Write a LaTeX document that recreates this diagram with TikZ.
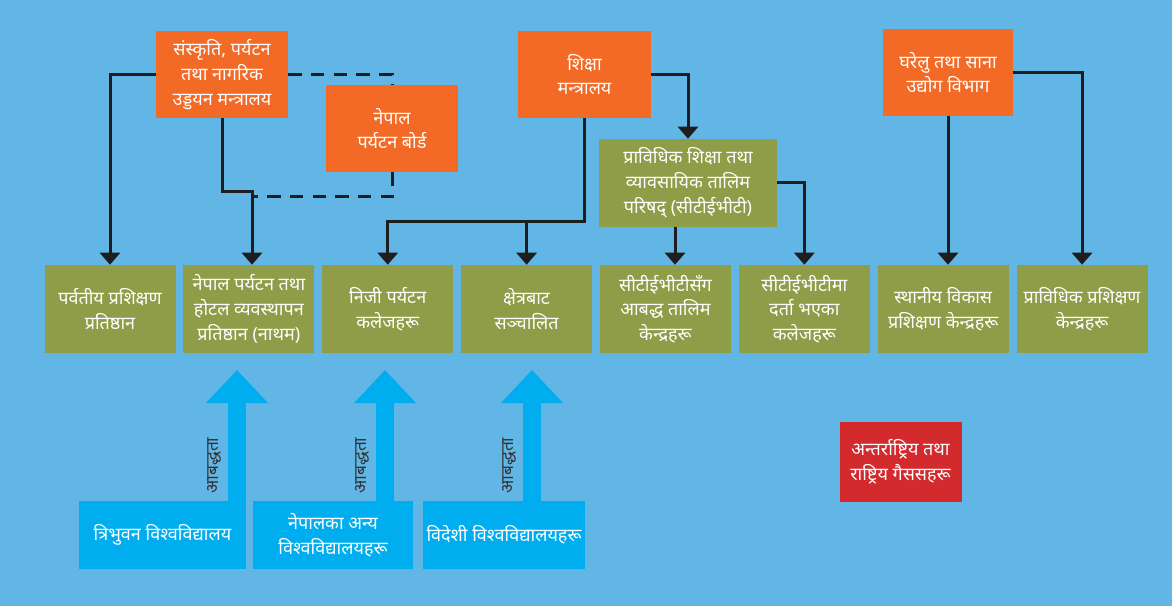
\documentclass[tikz,border=0pt]{standalone}
\usepackage{fontspec}
\newfontfamily\devfont[Script=Devanagari]{Noto Sans}
\usetikzlibrary{positioning, arrows.meta}
\definecolor{skyback}{HTML}{62B6E6}
\definecolor{orgfill}{HTML}{F26A25}
\definecolor{grnfill}{HTML}{8F9D48}
\definecolor{univfill}{HTML}{00AEEF}
\definecolor{redfill}{HTML}{D32A2E}
\definecolor{linedark}{HTML}{1E1E1E}
\definecolor{lbltext}{HTML}{333333}

\begin{document}
\begin{tikzpicture}[x=0.75pt,y=-0.75pt,node distance=5.5pt,
	box/.style={inner sep=0pt, align=center, text=white, font=\devfont\fontsize{13.5}{18.5}\selectfont},
	org/.style={box, fill=orgfill, minimum width=99pt, minimum height=65.25pt},
	grn/.style={box, fill=grnfill, minimum width=98.25pt, minimum height=66pt},
	univ/.style={box, fill=univfill, minimum height=51pt},
	link/.style={draw=linedark, line width=2.25pt, -{Triangle[width=15pt,length=9pt]}},
	dashln/.style={draw=linedark, line width=2.25pt, dash pattern=on 10pt off 7pt},
	affil/.style={draw=univfill, line width=13.5pt, -{Triangle[width=45pt,length=24.75pt]}},
	lbl/.style={sloped, above=5pt, inner sep=0pt, text=lbltext, font=\devfont\fontsize{13}{14}\selectfont}]
		\fill[skyback] (0,0) rectangle (1172,606);
		\useasboundingbox (0,0) rectangle (1172,606);

		% ministries and boards
		\node[org						] (mocta)	at (222,74.5)	{संस्कृति, पर्यटन\\तथा नागरिक\\उड्डयन मन्त्रालय};
		\node[org						] (ntb)		at (392,128.5)	{नेपाल\\पर्यटन बोर्ड};
		\node[org, minimum width=99.75pt] (moe)		at (584.5,74.5)	{शिक्षा\\मन्त्रालय};
		\node[org, minimum width=97.5pt	] (dcsi)	at (948,72.5)	{घरेलु तथा साना\\उद्योग विभाग};
		\node[grn, minimum width=133.5pt] (ctevt)	at (688,183)	{प्राविधिक शिक्षा तथा\\व्यावसायिक तालिम\\परिषद् (सीटीईभीटी)};

		% training institutions
		\node[grn						] (mti)		at (110,309)	{पर्वतीय प्रशिक्षण\\प्रतिष्ठान};
		\node[grn, right=of mti			] (nathm)	{नेपाल पर्यटन तथा\\होटल व्यवस्थापन\\प्रतिष्ठान (नाथम)};
		\node[grn, right=of nathm		] (pvt)		{निजी पर्यटन\\कलेजहरू};
		\node[grn, right=of pvt			] (ctv)		{क्षेत्रबाट\\सञ्चालित};
		\node[grn, right=of ctv			] (cta)		{सीटीईभीटीसँग\\आबद्ध तालिम\\केन्द्रहरू};
		\node[grn, right=of cta			] (reg)		{सीटीईभीटीमा\\दर्ता भएका\\कलेजहरू};
		\node[grn, right=of reg			] (ldc)		{स्थानीय विकास\\प्रशिक्षण केन्द्रहरू};
		\node[grn, right=of ldc			] (tti)		{प्राविधिक प्रशिक्षण\\केन्द्रहरू};

		% universities
		\node[univ, minimum width=125.25pt	] (tu)		at (162.5,535)	{त्रिभुवन विश्वविद्यालय};
		\node[univ, minimum width=120pt		] (nepu)	at (333,535)	{नेपालका अन्य\\विश्वविद्यालयहरू};
		\node[univ, minimum width=121.5pt	] (foru)	at (504,535)	{विदेशी विश्वविद्यालयहरू};

		\node[box, fill=redfill, minimum width=91.5pt, minimum height=60pt] (ngo) at (900.5,462) {अन्तर्राष्ट्रिय तथा\\राष्ट्रिय गैससहरू};

		\coordinate (jog)		at (252,192);
		\coordinate (dashjoin)	at (252,197);
		\coordinate (moejoin)	at (584.5,222);
		\coordinate (ctevtout)	at ([xshift=-9.75pt]ctevt.south);
		\coordinate (tutip)		at (237,370);
		\coordinate (neputip)	at (385,370);
		\coordinate (forutip)	at (532,370);

		\draw[link] (mocta.west) -| (mti.north);
		\draw[link] (mocta.south) |- (jog) -- (jog |- nathm.north);
		\draw[dashln] (mocta.east) -| (ntb.north);
		\draw[dashln] (ntb.south) |- (dashjoin);
		\draw[link] (moe.south) -- (moejoin) -| (pvt.north);
		\draw[link] (moejoin -| ctv.north) -- (ctv.north);
		\draw[link] (moe.east) -| (ctevt.north);
		\draw[link] (ctevtout) -- (ctevtout |- cta.north);
		\draw[link] (ctevt.east) -| (reg.north);
		\draw[link] (dcsi.south) -- (dcsi.south |- ldc.north);
		\draw[link] (dcsi.east) -| (tti.north);

		\draw[affil] (tutip |- tu.north) -- (tutip) node[lbl, pos=0.27] {आबद्धता};
		\draw[affil] (neputip |- nepu.north) -- (neputip) node[lbl, pos=0.27] {आबद्धता};
		\draw[affil] (forutip |- foru.north) -- (forutip) node[lbl, pos=0.27] {आबद्धता};
	\end{tikzpicture}
\end{document}
